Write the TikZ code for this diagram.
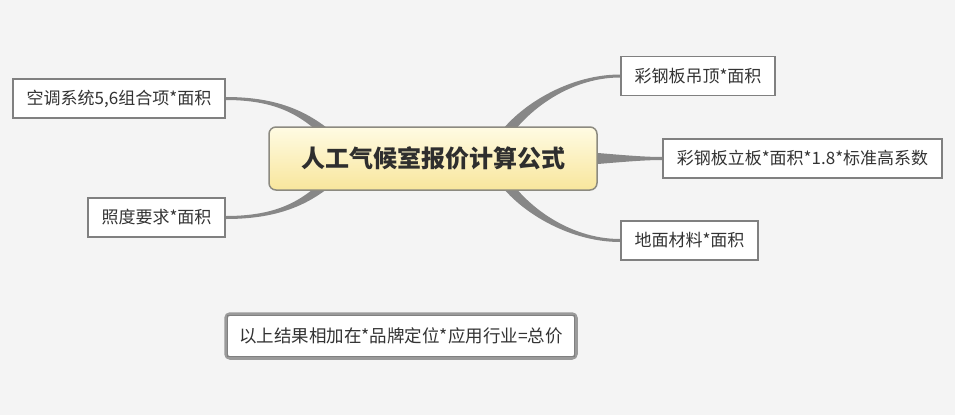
\documentclass[tikz,border=0pt]{standalone}
\usepackage{fontspec}
\setmainfont{Noto Sans CJK SC}
\usetikzlibrary{calc}
\definecolor{paper}{HTML}{F4F4F4}
\definecolor{twig}{HTML}{878787}
\definecolor{boxline}{HTML}{808080}
\definecolor{inktext}{HTML}{333333}
\definecolor{hubtop}{HTML}{FFFBE3}
\definecolor{hubbot}{HTML}{F8E69C}
\definecolor{hubline}{HTML}{8C8A80}
\definecolor{rimline}{HTML}{9A9A9A}
\pgfdeclarelayer{paperlayer}
\pgfdeclarelayer{twiglayer}
\pgfsetlayers{paperlayer,twiglayer,main}
\tikzset{
    hub/.style =    {rectangle,
                    rounded corners=7pt,
                    draw=hubline,
                    line width=1.5pt,
                    top color=hubtop,
                    bottom color=hubbot,
                    text=inktext!90!black,
                    minimum width=328pt,
                    minimum height=63pt,
                    font=\fontsize{24}{28}\selectfont\bfseries},
    leaf/.style =   {rectangle,
                    fill=white,
                    draw=boxline,
                    text=inktext,
                    line width=1.8pt,
                    inner sep=0pt,
                    minimum height=39pt,
                    font=\fontsize{17}{20}\selectfont},
    total/.style =  {rectangle,
                    rounded corners=4pt,
                    fill=white,
                    draw=rimline,
                    text=inktext,
                    line width=3.5pt,
                    inner sep=0pt,
                    minimum width=350pt,
                    minimum height=44pt,
                    font=\fontsize{17.5}{20}\selectfont},
    branch/.style = {fill=twig, draw=none}
}

\begin{document}
\begin{tikzpicture}[x=1pt,y=-1pt]
    \begin{pgfonlayer}{paperlayer}
        \fill[paper] (0,0) rectangle (955,415);
    \end{pgfonlayer}
    \useasboundingbox (0,0) rectangle (955,415);

    % centre and leaves
    \node[hub]  (hub) at (433,158.5) {人工气候室报价计算公式};
    \node[leaf,minimum width=212pt] (lt) at (119,98.5)   {空调系统5,6组合项*面积};
    \node[leaf,minimum width=137pt] (lb) at (156.5,217.5) {照度要求*面积};
    \node[leaf,minimum width=154pt] (rt) at (698,76)     {彩钢板吊顶*面积};
    \node[leaf,minimum width=279pt] (rm) at (802.5,158.5) {彩钢板立板*面积*1.8*标准高系数};
    \node[leaf,minimum width=137pt] (rb) at (689.5,240.5) {地面材料*面积};
    \node[total] (sum) at (401,336) {以上结果相加在*品牌定位*应用行业=总价};
    \draw[boxline,line width=1pt] ($(sum.north west)+(3.5,3.5)$) rectangle ($(sum.south east)+(-3.5,-3.5)$);

    % tapered branches
    \begin{pgfonlayer}{twiglayer}
        \fill[branch] ($(lt.east)+(0,-1.5)$) .. controls +(65,0) and +(-25,-22) .. ($(hub.north west)+(76,16)$)
            -- ($(hub.north west)+(66,20)$) .. controls +(-25,-22) and +(63,0) .. ($(lt.east)+(0,1.5)$) -- cycle;
        \fill[branch] ($(lb.east)+(0,1.5)$) .. controls +(65,0) and +(-25,22) .. ($(hub.south west)+(76,-16)$)
            -- ($(hub.south west)+(66,-20)$) .. controls +(-25,22) and +(63,0) .. ($(lb.east)+(0,-1.5)$) -- cycle;
        \fill[branch] ($(rt.west)+(0,-1.5)$) .. controls +(-55,0) and +(18,-32) .. ($(hub.north east)+(-104,16)$)
            -- ($(hub.north east)+(-94,20)$) .. controls +(18,-32) and +(-53,0) .. ($(rt.west)+(0,1.5)$) -- cycle;
        \fill[branch] ($(rb.west)+(0,1.5)$) .. controls +(-55,0) and +(18,32) .. ($(hub.south east)+(-104,-16)$)
            -- ($(hub.south east)+(-94,-20)$) .. controls +(18,32) and +(-53,0) .. ($(rb.west)+(0,-1.5)$) -- cycle;
        \fill[branch] ($(hub.east)+(-6,-6)$) .. controls +(25,2) and +(-20,0) .. ($(rm.west)+(0,-1.5)$)
            -- ($(rm.west)+(0,1.5)$) .. controls +(-20,0) and +(25,-2) .. ($(hub.east)+(-6,6)$) -- cycle;
    \end{pgfonlayer}
\end{tikzpicture}
\end{document}
